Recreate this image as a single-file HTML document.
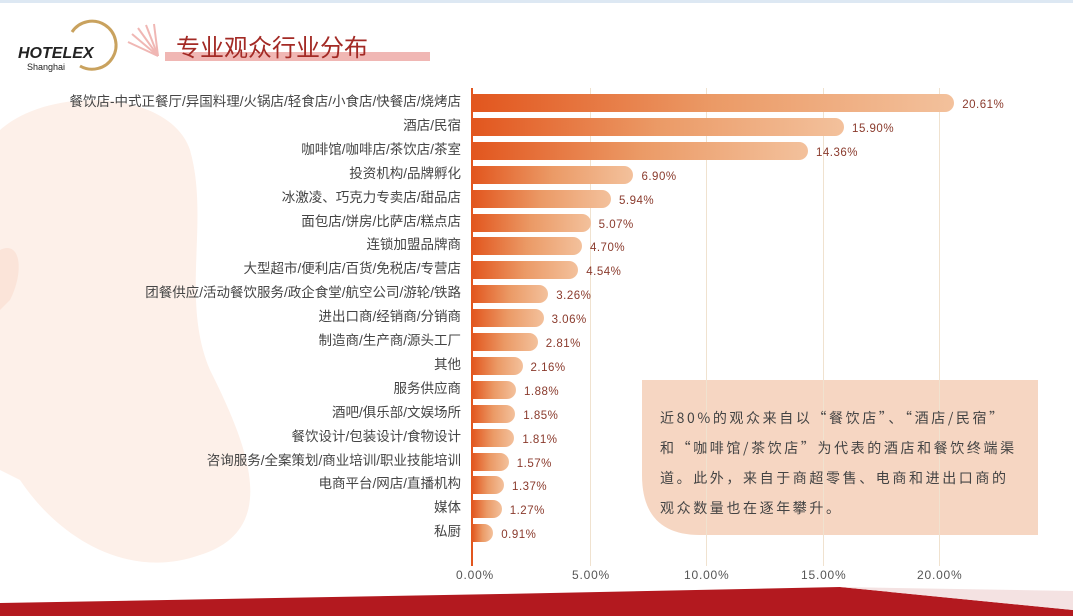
<!DOCTYPE html>
<html><head><meta charset="utf-8"><style>
body{margin:0;width:1073px;height:616px;overflow:hidden;background:#fff;font-family:"Liberation Sans","Noto Sans CJK SC",sans-serif;position:relative}
.l{position:absolute;right:612px;font-size:13.5px;color:#444;white-space:nowrap;line-height:18px}
.b{position:absolute;left:472px;height:18px;border-radius:0 9px 9px 0;background:linear-gradient(90deg,#e2561e,#eb9a66 50%,#f3c19c)}
.v{position:absolute;font-size:11.5px;color:#8a3a2c;line-height:18px;letter-spacing:0.5px}
.t{position:absolute;top:568px;font-size:12px;color:#555;letter-spacing:0.8px}
.g{position:absolute;top:88px;height:478px;width:1px;background:#f0e2cf}
</style></head><body>
<div style="position:absolute;left:0;top:0;width:1073px;height:3px;background:#dde8f3"></div>
<svg style="position:absolute;left:0;top:0" width="1073" height="616">
<path d="M0 130 C50 85 170 90 190 150 C210 220 180 300 210 370 C250 450 280 530 200 555 C130 580 60 540 20 480 L0 470 Z" fill="#fdf0e9"/>
<path d="M0 250 C20 240 25 270 10 300 L0 310 Z" fill="#fbe4d9"/>
<path d="M0 603 L500 594 L840 587 L1073 610 L1073 616 L0 616 Z" fill="#b3191f"/>
<path d="M840 587 L1073 591 L1073 610 Z" fill="#f4e2e2"/>
<rect x="165" y="52" width="265" height="9" fill="#f0b7b4"/>
<g stroke="#f0b7b4" stroke-width="2"><line x1="158" y1="56" x2="128" y2="42"/><line x1="158" y1="56" x2="132" y2="34"/><line x1="158" y1="56" x2="138" y2="28"/><line x1="158" y1="56" x2="146" y2="25"/><line x1="158" y1="56" x2="154" y2="24"/></g>
<path d="M72 32 A24 24 0 1 1 80 66" stroke="#c9a25e" stroke-width="3" fill="none"/>
<text x="18" y="58" font-family="Liberation Sans" font-weight="bold" font-style="italic" font-size="16" fill="#222">HOTELEX</text>
<text x="27" y="70" font-family="Liberation Sans" font-size="9" fill="#222">Shanghai</text>
<text x="176" y="56" font-family="Liberation Sans,Noto Sans CJK SC,sans-serif" font-size="24" fill="#a32a25">专业观众行业分布</text>
<path d="M642 380 H1038 V535 H700 Q642 535 642 475 Z" fill="#f6d6c2"/>
</svg>
<div class="g" style="left:590px"></div><div class="g" style="left:706px"></div><div class="g" style="left:823px"></div><div class="g" style="left:939px"></div>
<div style="position:absolute;left:471px;top:88px;width:2px;height:478px;background:#e2561e"></div>
<div id="c"></div>
<div style="position:absolute;left:660px;top:403px;font-family:'Noto Sans CJK SC',sans-serif;font-size:14px;line-height:30px;color:#444;width:400px;letter-spacing:2.6px;white-space:nowrap">近80%的观众来自以“餐饮店”、“酒店/民宿”<br>和“咖啡馆/茶饮店”为代表的酒店和餐饮终端渠<br>道。此外，来自于商超零售、电商和进出口商的<br>观众数量也在逐年攀升。</div>
<div class="t" style="left:456px">0.00%</div><div class="t" style="left:572px">5.00%</div><div class="t" style="left:684px">10.00%</div><div class="t" style="left:801px">15.00%</div><div class="t" style="left:917px">20.00%</div>
<script>
var d=[["餐饮店-中式正餐厅/异国料理/火锅店/轻食店/小食店/快餐店/烧烤店",20.61],["酒店/民宿",15.90],["咖啡馆/咖啡店/茶饮店/茶室",14.36],["投资机构/品牌孵化",6.90],["冰激凌、巧克力专卖店/甜品店",5.94],["面包店/饼房/比萨店/糕点店",5.07],["连锁加盟品牌商",4.70],["大型超市/便利店/百货/免税店/专营店",4.54],["团餐供应/活动餐饮服务/政企食堂/航空公司/游轮/铁路",3.26],["进出口商/经销商/分销商",3.06],["制造商/生产商/源头工厂",2.81],["其他",2.16],["服务供应商",1.88],["酒吧/俱乐部/文娱场所",1.85],["餐饮设计/包装设计/食物设计",1.81],["咨询服务/全案策划/商业培训/职业技能培训",1.57],["电商平台/网店/直播机构",1.37],["媒体",1.27],["私厨",0.91]];
var h="";d.forEach(function(r,i){var y=94+i*23.9,w=r[1]*23.4;
h+='<div class="l" style="top:'+(y-1)+'px">'+r[0]+'</div><div class="b" style="top:'+y+'px;width:'+w+'px"></div><div class="v" style="top:'+(y+2)+'px;left:'+(472+w+8)+'px">'+r[1].toFixed(2)+'%</div>';});
document.getElementById("c").innerHTML=h;
</script>
</body></html>
